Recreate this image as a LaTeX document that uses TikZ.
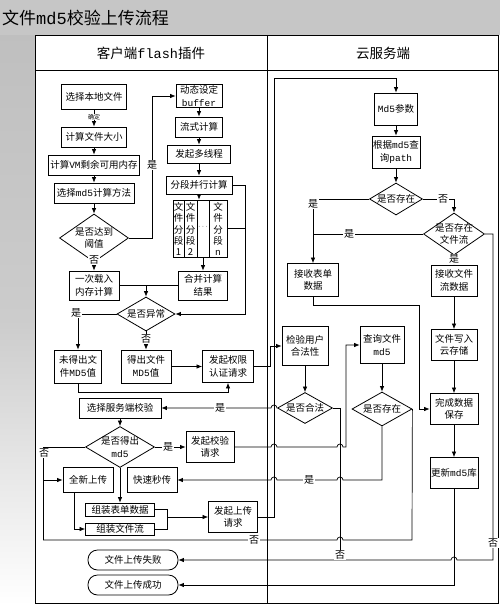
\documentclass[tikz,border=0pt]{standalone}
\usepackage{fontspec}
\setmainfont{Noto Sans CJK SC}
\newfontfamily\monof{Liberation Mono}
\newcommand\lat[1]{{\monof #1}}
\usetikzlibrary{arrows.meta,shapes.geometric}
\begin{document}
\begin{tikzpicture}[x=1pt,y=-1pt,
  box/.style={draw, line width=0.8pt, inner sep=1pt, align=center, font=\fontsize{9.5}{12.5}\selectfont},
  dia/.style={draw, diamond, line width=0.8pt, inner sep=0pt},
  dtxt/.style={align=center, font=\fontsize{9.5}{12.5}\selectfont, inner sep=0pt},
  segt/.style={align=center, font=\fontsize{9.5}{11.2}\selectfont, inner sep=0pt},
  term/.style={draw, line width=0.8pt, rounded corners=9.5pt, minimum width=90pt, minimum height=20pt, inner sep=1pt, font=\fontsize{9.5}{12}\selectfont},
  ln/.style={line width=0.7pt},
  arr/.style={ln, -{Latex[length=5.5pt,width=4.5pt]}},
  lab/.style={fill=white, inner sep=0.6pt, font=\fontsize{10}{10}\selectfont},
  hdr/.style={inner sep=0pt, font=\fontsize{13.5}{14}\selectfont},
]
\useasboundingbox (0,0) rectangle (500,605);
% background texture bands
\fill[gray!45] (0,0) rectangle (500,35);
\shade[top color=gray!50, bottom color=white, middle color=gray!40] (0,35) rectangle (35,605);
\node[anchor=west, inner sep=0pt, font=\fontsize{17}{17}\selectfont] (title) at (2,18) {文件\lat{md5}校验上传流程};

% table frame
\fill[white] (35,35) rectangle (498,603);
\draw[line width=1pt] (35,35) rectangle (498,603);
\draw[line width=1pt] (267,35) -- (267,603);
\draw[line width=0.8pt] (35,70) -- (498,70);
\node[hdr] (h1) at (151,53) {客户端\lat{flash}插件};
\node[hdr] (h2) at (383,53) {云服务端};

% ---------------- client column ----------------
\node[box, minimum width=65pt, minimum height=25pt] (n1) at (94,97) {选择本地文件};
\node[box, minimum width=65pt, minimum height=20pt] (n2) at (94,137) {计算文件大小};
\node[box, minimum width=91pt, minimum height=20pt] (n3) at (94,165) {计算\lat{VM}剩余可用内存};
\node[box, minimum width=80pt, minimum height=20pt] (n4) at (94,193) {选择\lat{md5}计算方法};
\node[dia, minimum width=69pt, minimum height=48pt] (d1) at (94,238) {};
\node[dtxt] at (d1) {是否达到\\阈值};

\node[box, minimum width=46pt, minimum height=23pt] (n5) at (199,96) {动态设定\\\lat{buffer}};
\node[box, minimum width=47pt, minimum height=20pt] (n6) at (199,127) {流式计算};
\node[box, minimum width=63pt, minimum height=18pt] (n7) at (199,154) {发起多线程};
\node[box, minimum width=66pt, minimum height=18pt] (n8) at (199,185) {分段并行计算};

\node[draw, line width=0.8pt, minimum width=54pt, minimum height=57pt, inner sep=0pt] (seg) at (200,228.5) {};
\draw[line width=0.8pt] (184,200) -- (184,257) (197,200) -- (197,257) (209,200) -- (209,257);
\node[segt] (s1) at (178.5,229) {文\\件\\分\\段\\1};
\node[segt] (s2) at (190.5,229) {文\\件\\分\\段\\2};
\node[segt] (s3) at (203,227) {\fontsize{7}{7}\selectfont$\cdots$};
\node[segt] (sn) at (218,229) {文\\件\\分\\段\\\lat{n}};

\node[box, minimum width=49pt, minimum height=29pt] (n9) at (203,285.5) {合并计算\\结果};
\node[box, minimum width=50pt, minimum height=29pt] (n10) at (94,285.5) {一次载入\\内存计算};
\node[dia, minimum width=58pt, minimum height=34pt] (d2) at (146,314) {};
\node[dtxt] at (d2) {是否异常};

\node[box, minimum width=47pt, minimum height=33pt] (n11) at (78,366.5) {未得出文\\件\lat{MD5}值};
\node[box, minimum width=50pt, minimum height=33pt] (n12) at (146,366.5) {得出文件\\\lat{MD5}值};
\node[box, minimum width=51pt, minimum height=32pt] (n13) at (228,366.5) {发起权限\\认证请求};

\node[box, minimum width=82pt, minimum height=20pt] (n14) at (120,408) {选择服务端校验};
\node[dia, minimum width=69pt, minimum height=41pt] (d3) at (120,447) {};
\node[dtxt] at (d3) {是否得出\\\lat{md5}};
\node[box, minimum width=48pt, minimum height=31pt] (n15) at (210,447) {发起校验\\请求};

\node[box, minimum width=50pt, minimum height=25pt] (n16) at (88,480) {全新上传};
\node[box, minimum width=50pt, minimum height=25pt] (n17) at (152,480) {快速秒传};
\node[box, minimum width=69pt, minimum height=13pt] (n18) at (120,509.5) {组装表单数据};
\node[box, minimum width=69pt, minimum height=12pt] (n19) at (120,529) {组装文件流};
\node[box, minimum width=49pt, minimum height=31pt] (n20) at (233,517) {发起上传\\请求};

\node[term] (t1) at (133,560) {文件上传失败};
\node[term] (t2) at (133,585) {文件上传成功};

% ---------------- server column ----------------
\node[box, minimum width=43pt, minimum height=32pt] (r1) at (396,109) {\lat{Md5}参数};
\node[box, minimum width=48pt, minimum height=32pt] (r2) at (396,152) {根据\lat{md5}查\\询\lat{path}};
\node[dia, minimum width=53pt, minimum height=32pt] (rd1) at (396,199) {};
\node[dtxt] at (rd1) {是否存在};
\node[dia, minimum width=61pt, minimum height=42pt] (rd2) at (454,234) {};
\node[dtxt] at (rd2) {是否存在\\文件流};
\node[box, minimum width=51pt, minimum height=33pt] (r3) at (313,280) {接收表单\\数据};
\node[box, minimum width=46pt, minimum height=31pt] (r4) at (454,280.5) {接收文件\\流数据};
\node[box, minimum width=46pt, minimum height=39pt] (r5) at (305,346) {检验用户\\合法性};
\node[box, minimum width=44pt, minimum height=37pt] (r6) at (382,345) {查询文件\\\lat{md5}};
\node[box, minimum width=46pt, minimum height=31pt] (r7) at (454,345) {文件写入\\云存储};
\node[dia, minimum width=55pt, minimum height=31pt] (rd3) at (305,408) {};
\node[dtxt] at (rd3) {是否合法};
\node[dia, minimum width=60pt, minimum height=34pt] (rd4) at (382,409) {};
\node[dtxt] at (rd4) {是否存在};
\node[box, minimum width=48pt, minimum height=31pt] (r8) at (454,409) {完成数据\\保存};
\node[box, minimum width=48pt, minimum height=31pt] (r9) at (454,473) {更新\lat{md5}库};

\coordinate (gap) at (120,468);
\coordinate (jl) at (43,480);

% ---------------- connectors (client) ----------------
\draw[arr] (n1) -- (n2);
\node[fill=white, inner sep=0.5pt, font=\fontsize{6}{6}\selectfont] (qd) at (94,117) {确定};
\draw[arr] (n2) -- (n3);
\draw[arr] (n3) -- (n4);
\draw[arr] (n4) -- (d1);
\draw[arr] (d1) -- (n10);
\node[lab] at (94,260) {否};
\draw[arr] (d1.east) -- (152,238) |- (n5.west);
\node[lab] at (152,165) {是};
\draw[arr] (n5) -- (n6);
\draw[arr] (n6) -- (n7);
\draw[arr] (n7) -- (n8);
\draw[arr] (n8.south) -- (n8.south |- seg.north);
\draw[arr] (seg.south -| n9.north) -- (n9.north);
\draw[arr] (n8.east) -- (245,185) |- (d2.east);
\draw[ln] (seg.east) -- (245,228.5);
\draw[ln] (n10.east) -- (n9.west);
\draw[arr] (d2.north |- n10.east) -- (d2.north);
\draw[arr] (d2.west) -| (n11.north);
\node[lab] at (76,313) {是};
\draw[arr] (d2.south) -- (n12.north);
\node[lab] at (146,339) {否};
\draw[arr] (n12) -- (n13);
\draw[arr] (n11.south) -- (78,392) -| (n13.south);
\draw[arr] (n13.east) -- (270,366.5) |- (r5.west);

\draw[arr] (n14) -- (d3);
\draw[arr] (d3.east) -- (n15.west);
\node[lab] at (168,447) {是};
\draw[ln] (d3.west) -- (43,447) -- (43,540);
\draw[arr] (jl) -- (n16.west);
\node[lab] at (44,453) {否};
\draw[arr] ([xshift=-14pt]n16.south) |- (n19.west);
\draw[arr] (gap) -- (n18.north);
\draw[ln] (n18.east) -- (167,509.5) -- (167,529) -- (n19.east);
\draw[arr] (167,517) -- (n20.west);

% ---------------- connectors (server) ----------------
\draw[arr] (n20.east) -| (274,78) -| (r1.north);
\draw[arr] (r1) -- (r2);
\draw[arr] (r2) -- (rd1);
\draw[arr] (rd1.east) -| (rd2.north);
\node[lab] at (443,199) {否};
\draw[arr] (rd1.west) -| (r3.north);
\node[lab] at (313,204) {是};
\draw[ln] (rd2.west) -- (rd2.west -| r3.north);
\node[lab] at (349,234) {是};
\draw[arr] (rd2.south) -- (r4.north);
\node[lab] at (454,259) {是};
\draw[arr] (r4) -- (r7);
\draw[arr] (r7) -- (r8);
\draw[arr] (r8) -- (r9);
\draw[arr] (r3.south) -- (313,305) -- (419,305) |- (r8.west);
\draw[arr] (r5) -- (rd3);
\draw[arr] (r6) -- (rd4);

\draw[arr] (rd3.west) -- (277,408) arc[start angle=0,end angle=180,radius=3pt] -- (n14.east);
\node[lab] at (220,408) {是};
\draw[arr] (n15.east) -- (271,447) arc[start angle=180,end angle=0,radius=3pt] -- (337,447) arc[start angle=180,end angle=0,radius=3pt] -- (346,447) |- (r6.west);
\draw[ln] (rd3.east) -- (340,408) -- (340,560);
\draw[arr] (rd4.south) -- (382,480) -- (343,480) arc[start angle=0,end angle=180,radius=3pt] -- (277,480) arc[start angle=0,end angle=180,radius=3pt] -- (n17.east);
\node[lab] at (309,480) {是};
\draw[ln] (rd4.east) -- (412,540) -- (343,540) arc[start angle=0,end angle=180,radius=3pt] -- (43,540);
\node[lab] at (254,540) {否};
\draw[arr] (rd2.east) -- (493,234) -- (493,560) -- (457,560) arc[start angle=0,end angle=180,radius=3pt] -- (t1.east);
\node[lab] at (493,543) {否};
\node[lab] at (340,555) {否};
\draw[arr] (r9.south) |- (t2.east);
\end{tikzpicture}
\end{document}
